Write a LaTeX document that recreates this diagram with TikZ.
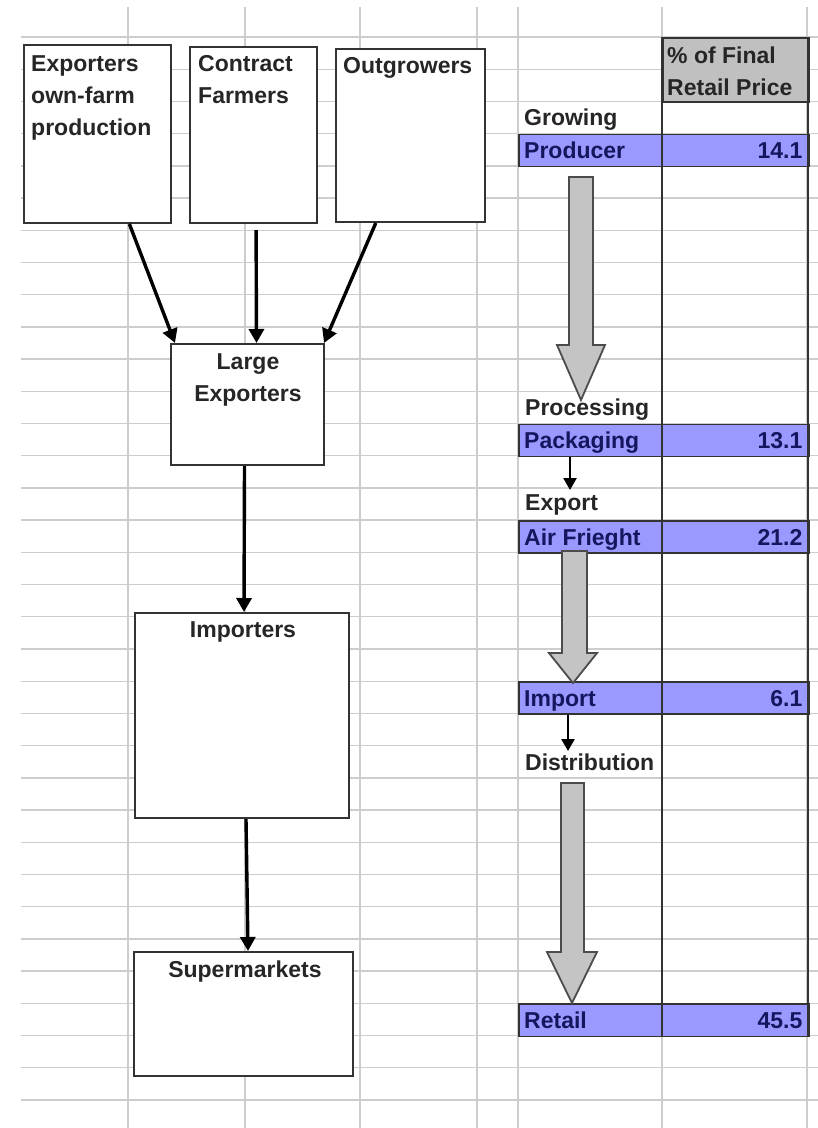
\documentclass[tikz,border=0pt]{standalone}
\usepackage{fontspec}
\setmainfont{Liberation Sans}
\usetikzlibrary{calc,arrows.meta}
\definecolor{gridc}{RGB}{205,205,205}
\definecolor{rowblue}{RGB}{153,153,255}
\definecolor{navy}{RGB}{22,22,95}
\definecolor{hdrgray}{RGB}{192,192,192}
\definecolor{arrgray}{RGB}{196,196,196}
\begin{document}
\begin{tikzpicture}[x=1pt,y=-1pt,
  txt/.style={font=\fontsize{23}{32}\selectfont\bfseries, inner sep=0pt, text=black!85},
  rowtxt/.style={font=\fontsize{23}{32}\selectfont\bfseries, inner sep=0pt, text=navy},
  box/.style={draw=black!80, line width=2pt, fill=white, inner sep=0pt, anchor=north west},
  bluerow/.style={draw=black!80, line width=1.6pt, fill=rowblue, inner sep=0pt, anchor=north west, minimum width=290pt, minimum height=32.2pt},
  conn/.style={draw=black, line width=3.4pt, -{Triangle[length=14pt,width=15pt]}},
  smallarr/.style={draw=black, line width=2.6pt, -{Triangle[length=12pt,width=13pt]}},
  gridline/.style={draw=gridc, line width=1.4pt},
  bigarrow/.style={draw=black!70, line width=1.8pt, fill=arrgray, line join=miter},
  colborder/.style={draw=black!80, line width=1.8pt}
]
\useasboundingbox (0,0) rectangle (818,1128);
\fill[white] (0,0) rectangle (818,1128);
% spreadsheet grid
\foreach \k in {0,...,33}
  \draw[gridline] (21,{37+32.21*\k}) -- (818,{37+32.21*\k});
\foreach \x in {128,245,360,477,518,662,807}
  \draw[gridline] (\x,7) -- (\x,1128);

% left flow boxes
\node[box, minimum width=147pt, minimum height=178pt] (own) at (23,44) {};
\node[box, minimum width=127pt, minimum height=176pt] (contract) at (189,46) {};
\node[box, minimum width=149pt, minimum height=173pt] (outgrowers) at (335,48) {};
\node[box, minimum width=153pt, minimum height=121pt] (large) at (170,343) {};
\node[box, minimum width=214pt, minimum height=205pt] (importers) at (134,612) {};
\node[box, minimum width=219pt, minimum height=124pt] (supermarkets) at (133,951) {};

\node[txt, align=left, anchor=north west] (owntxt) at (31,55.5) {Exporters\\own-farm\\production};
\node[txt, align=left, anchor=north west] (contracttxt) at (198,55.5) {Contract\\Farmers};
\node[txt, anchor=base west] (outgrowerstxt) at (343,73) {Outgrowers};
\node[txt, align=center, anchor=north] (largetxt) at (248,353.5) {Large\\Exporters};
\node[txt, anchor=base] (importerstxt) at (243,637) {Importers};
\node[txt, anchor=base] (supermarketstxt) at (245,977) {Supermarkets};

% connectors
\draw[conn] ($(own.south west)!0.714!(own.south east)$) -- ([xshift=5pt]large.north west);
\draw[conn] ($(contract.south west)!0.52!(contract.south east)+(0,6)$) -- ([xshift=9pt]large.north);
\draw[conn] ($(outgrowers.south west)!0.27!(outgrowers.south east)$) -- ([xshift=-1pt]large.north east);
\draw[conn] ([xshift=-3pt]large.south) -- ([xshift=2pt]importers.north);
\draw[conn] ([xshift=4pt]importers.south) -- ([xshift=4.5pt]supermarkets.north);

% right table
\node[draw=black!80, line width=1.8pt, fill=hdrgray, anchor=north west, minimum width=146pt, minimum height=64.4pt, inner sep=0pt] (header) at (662,37) {};
\node[txt, align=left, anchor=north west] (headertxt) at (667,46.5) {\% of Final\\Retail Price};

\node[bluerow] (producer) at (518,133.6) {};
\node[bluerow] (packaging) at (518,423.5) {};
\node[bluerow] (airfreight) at (518,520.2) {};
\node[bluerow] (import) at (518,681.2) {};
\node[bluerow] (retail) at (518,1003.3) {};

\draw[colborder] (662,37) -- (662,1035.5);
\draw[colborder] (808,37) -- (808,1035.5);

\node[txt, anchor=base west] (growing) at (524,125) {Growing};
\node[txt, anchor=base west] (processing) at (525,415) {Processing};
\node[txt, anchor=base west] (export) at (525,510) {Export};
\node[txt, anchor=base west] (distribution) at (525,770) {Distribution};

\node[rowtxt, anchor=base west] at ($(producer.south west)+(6,-8.5)$) {Producer};
\node[rowtxt, anchor=base east] at ($(producer.south east)+(-7,-8.5)$) {14.1};
\node[rowtxt, anchor=base west] at ($(packaging.south west)+(6,-8.5)$) {Packaging};
\node[rowtxt, anchor=base east] at ($(packaging.south east)+(-7,-8.5)$) {13.1};
\node[rowtxt, anchor=base west] at ($(airfreight.south west)+(6,-8.5)$) {Air Frieght};
\node[rowtxt, anchor=base east] at ($(airfreight.south east)+(-7,-8.5)$) {21.2};
\node[rowtxt, anchor=base west] at ($(import.south west)+(6,-8.5)$) {Import};
\node[rowtxt, anchor=base east] at ($(import.south east)+(-7,-8.5)$) {6.1};
\node[rowtxt, anchor=base west] at ($(retail.south west)+(6,-8.5)$) {Retail};
\node[rowtxt, anchor=base east] at ($(retail.south east)+(-7,-8.5)$) {45.5};

% big block arrows
\draw[bigarrow] (569,177) -- (593,177) -- (593,345) -- (605,345) -- (581,400) -- (557,345) -- (569,345) -- cycle;
\draw[bigarrow] (562,551) -- (587,551) -- (587,653) -- (597,653) -- (573,683) -- (549,653) -- (562,653) -- cycle;
\draw[bigarrow] (561,783) -- (584,783) -- (584,952) -- (597,952) -- (572,1003) -- (547,952) -- (561,952) -- cycle;

% small arrows
\coordinate (exporttop) at (570,490);
\coordinate (distrtop) at (568,751);
\draw[smallarr] (packaging.south west -| exporttop) -- (exporttop);
\draw[smallarr] (import.south west -| distrtop) -- (distrtop);
\end{tikzpicture}
\end{document}
